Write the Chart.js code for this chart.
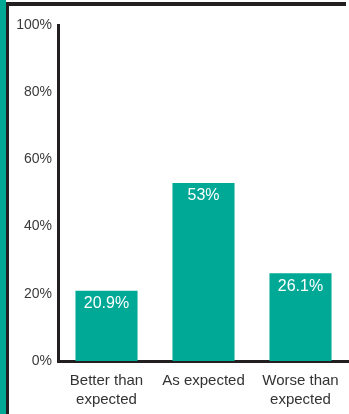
<!DOCTYPE html>
<html lang="en">
<head>
  <meta charset="UTF-8" />
  <title>Outcome vs expectation</title>
  <script src="https://cdn.jsdelivr.net/npm/chart.js"></script>
  <style>
    html, body {
      margin: 0;
      padding: 0;
      background: #fff;
    }
    body {
      width: 349px;
      height: 414px;
      overflow: hidden;
      border-left: 6px solid #00a896;
      box-sizing: border-box;
    }
    .frame {
      border-left: 3px solid #231f20;
      border-top: 4px solid #231f20;
      margin-top: 2px;
      width: 340px;
      height: 412px;
      box-sizing: border-box;
    }
    canvas {
      display: block;
    }
  </style>
</head>
<body>
  <div class="frame">
    <canvas id="chart" width="340" height="408"></canvas>
  </div>

  <script>
    const categories = [["Better than", "expected"], "As expected", ["Worse than", "expected"]];
    const shares = [20.9, 53, 26.1];
    const shareLabels = ["20.9%", "53%", "26.1%"];
    const yTicks = [0, 20, 40, 60, 80, 100];

    const teal = "#00a896";
    const fontFamily = "'Liberation Sans Narrow', 'Liberation Sans', Arial, sans-serif";

    // value text drawn in white just inside the top of each bar
    const barValueLabels = {
      id: "barValueLabels",
      afterDatasetsDraw(chart) {
        const { ctx } = chart;
        const meta = chart.getDatasetMeta(0);
        ctx.save();
        ctx.fillStyle = "#ffffff";
        ctx.font = "16px " + fontFamily;
        ctx.textAlign = "center";
        ctx.textBaseline = "top";
        meta.data.forEach((bar, i) => {
          ctx.fillText(shareLabels[i], bar.x, bar.y + 5);
        });
        ctx.restore();
      }
    };

    new Chart(document.getElementById("chart"), {
      type: "bar",
      data: {
        labels: categories,
        datasets: [{
          data: shares,
          backgroundColor: teal,
          borderWidth: 0,
          barPercentage: 0.8,
          categoryPercentage: 0.8
        }]
      },
      options: {
        responsive: false,
        animation: false,
        layout: { padding: { top: 19, right: 0, left: 0, bottom: 0 } },
        plugins: {
          legend: { display: false },
          tooltip: { enabled: false }
        },
        scales: {
          x: {
            grid: { display: false, drawTicks: false },
            border: { display: true, color: "#231f20", width: 3 },
            ticks: {
              color: "#333",
              padding: 10,
              font: { family: fontFamily, size: 15, lineHeight: 1.3 },
              maxRotation: 0
            },
            afterFit(scale) { scale.height = 53; }
          },
          y: {
            min: 0,
            max: 100,
            afterBuildTicks(scale) {
              scale.ticks = yTicks.map(v => ({ value: v }));
            },
            grid: { display: false, drawTicks: false },
            border: { display: true, color: "#231f20", width: 3 },
            ticks: {
              color: "#3a3a3a",
              padding: 6,
              font: { family: fontFamily, size: 14 },
              callback: v => v + "%"
            },
            afterFit(scale) { scale.width = 49; }
          }
        }
      },
      plugins: [barValueLabels]
    });
  </script>
</body>
</html>
